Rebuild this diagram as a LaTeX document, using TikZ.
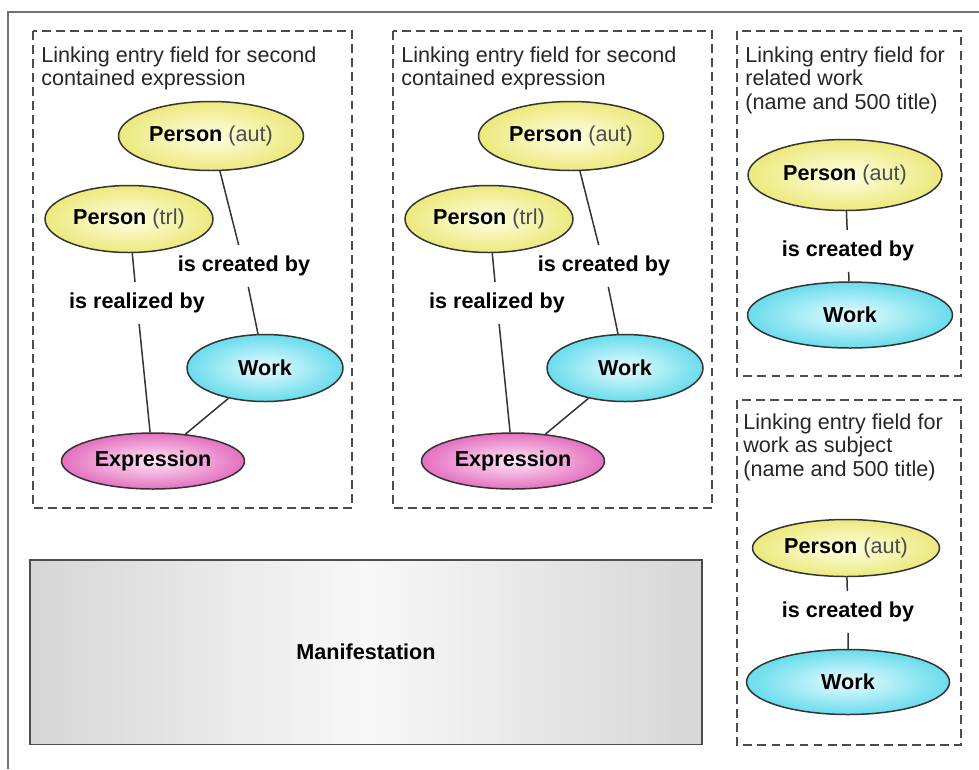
\documentclass[tikz,border=0pt]{standalone}
\usepackage{fontspec}
\setmainfont{Liberation Sans}
\usepackage{tikz}
\usetikzlibrary{shapes.geometric}

\definecolor{personout}{RGB}{236,233,125}
\definecolor{personin}{RGB}{255,255,228}
\definecolor{workout}{RGB}{105,220,236}
\definecolor{workin}{RGB}{232,252,255}
\definecolor{exprout}{RGB}{228,112,192}
\definecolor{exprin}{RGB}{255,232,246}
\definecolor{manifout}{RGB}{214,214,214}
\definecolor{manifin}{RGB}{248,248,248}

\newcommand{\diafont}{\fontsize{12.3}{13.6}\selectfont}
\newcommand{\role}[1]{\textmd{\color{black!70}#1}}

\tikzset{
  entity/.style={ellipse, draw=black!80, line width=0.85pt, inner sep=0pt, font=\diafont\bfseries},
  person/.style={entity, inner color=personin, outer color=personout},
  work/.style={entity, inner color=workin, outer color=workout},
  expr/.style={entity, inner color=exprin, outer color=exprout},
  manif/.style={rectangle, draw=black!70, line width=1.1pt, left color=manifout, right color=manifout, middle color=manifin, font=\diafont\bfseries},
  rel/.style={font=\diafont\bfseries, inner xsep=2pt, inner ysep=6pt},
  link/.style={draw=black!80, line width=0.85pt},
  panel/.style={draw=black!70, line width=0.9pt, dash pattern=on 5pt off 3pt},
  title/.style={anchor=north west, align=left, inner sep=0pt, font=\diafont, text=black!85},
}

\begin{document}
\begin{tikzpicture}[x=0.02cm, y=-0.02cm]
\useasboundingbox (0,0) rectangle (979,769);
\draw[draw=black!55, line width=1.5pt] (8,769) -- (8,12) -- (979,12);

\foreach \s/\n in {0/a,360/b}{
  \draw[panel] (\s+33,31) rectangle (\s+352,508);
  \node[title] (title\n) at (\s+41,46) {Linking entry field for second\\contained expression};
  \node[person, minimum width=3.7cm, minimum height=1.38cm] (paut\n) at (\s+211,136) {Person \role{(aut)}};
  \node[person, minimum width=3.36cm, minimum height=1.34cm] (ptrl\n) at (\s+129,219) {Person \role{(trl)}};
  \node[work, minimum width=3.12cm, minimum height=1.34cm] (work\n) at (\s+265,368) {Work};
  \node[expr, minimum width=3.66cm, minimum height=1.12cm] (expr\n) at (\s+153,461) {Expression};
  \node[rel] (crt\n) at (\s+244,266) {is created by};
  \node[rel] (rlz\n) at (\s+137,303) {is realized by};
  \draw[link] (paut\n) -- (crt\n) -- (work\n);
  \draw[link] (ptrl\n) -- (rlz\n) -- (expr\n);
  \draw[link] (work\n) -- (expr\n);
}

\draw[panel] (737,31) rectangle (961,376);
\node[title] (titlerel) at (745,46) {Linking entry field for\\related work\\(name and 500 title)};
\node[person, minimum width=3.88cm, minimum height=1.42cm] (prel) at (845,175) {Person \role{(aut)}};
\node[rel] (crel) at (848,251) {is created by};
\node[work, minimum width=4.1cm, minimum height=1.32cm] (wrel) at (850,315) {Work};
\draw[link] (prel) -- (crel) -- (wrel);

\draw[panel] (737,400) rectangle (961,745);
\node[title] (titlesubj) at (743,413) {Linking entry field for\\work as subject\\(name and 500 title)};
\node[person, minimum width=3.74cm, minimum height=1.14cm] (psubj) at (846,548) {Person \role{(aut)}};
\node[rel] (csubj) at (848,612) {is created by};
\node[work, minimum width=4.06cm, minimum height=1.3cm] (wsubj) at (848,682) {Work};
\draw[link] (psubj) -- (csubj) -- (wsubj);

\node[manif, minimum width=13.44cm, minimum height=3.7cm] (manif) at (366,652) {Manifestation};
\end{tikzpicture}
\end{document}
